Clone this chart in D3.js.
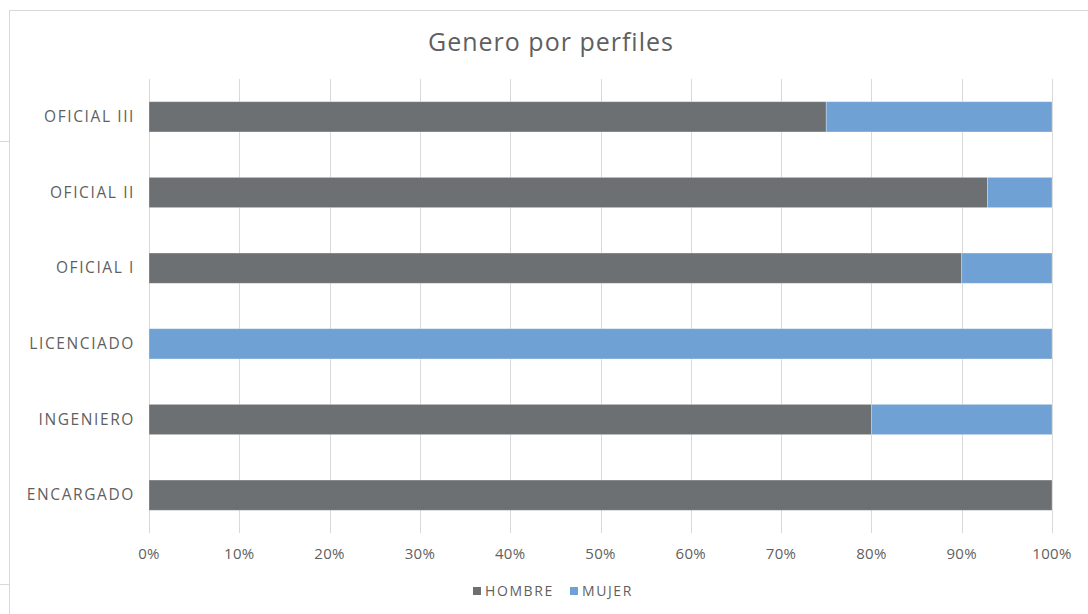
<!DOCTYPE html>
<html>
<head>
<meta charset="utf-8">
<script src="https://cdn.jsdelivr.net/npm/d3@7"></script>
<style>
  body { margin: 0; background: #fff; }
  text { font-family: "Open Sans", sans-serif; fill: #5f5f5f; }
</style>
</head>
<body>
<div class="chart"></div>
<script>
const categories = ['OFICIAL III', 'OFICIAL II', 'OFICIAL I', 'LICENCIADO', 'INGENIERO', 'ENCARGADO'];
const hombre = [75, 92.86, 90, 0, 80, 100];
const mujer = [25, 7.14, 10, 100, 20, 0];
const seriesNames = ['HOMBRE', 'MUJER'];
const colors = ['#6D7073', '#6FA1D4'];
const tickValues = [0, 10, 20, 30, 40, 50, 60, 70, 80, 90, 100];

const width = 1088;
const height = 614;
const svg = d3.select('.chart')
    .append('svg')
    .attr('width', width)
    .attr('height', height);

// chart frame (only left / top visible in view)
svg.append('rect')
    .attr('x', 9.5).attr('y', 10.5)
    .attr('width', 1200).attr('height', 700)
    .attr('fill', 'none').attr('stroke', '#d9d9d9');
// bits of cell borders left of the frame
[141.5, 584.5].forEach(y => {
    svg.append('line').attr('x1', 0).attr('x2', 9).attr('y1', y).attr('y2', y)
        .attr('stroke', '#d9d9d9');
});

const x = d3.scaleLinear().domain([0, 100]).range([149, 1052]);
const y = d3.scaleBand().domain(categories).range([79, 533])
    .paddingInner(0.6).paddingOuter(0.3);

svg.append('text')
    .attr('x', 551).attr('y', 51)
    .attr('text-anchor', 'middle')
    .attr('font-size', 25)
    .attr('letter-spacing', 1)
    .text('Genero por perfiles');

// gridlines
svg.append('g')
    .selectAll('line')
    .data(tickValues)
    .enter()
    .append('line')
    .attr('x1', d => Math.round(x(d)) + 0.5)
    .attr('x2', d => Math.round(x(d)) + 0.5)
    .attr('y1', 79).attr('y2', 533)
    .attr('stroke', '#d9d9d9');

// x tick labels
svg.append('g')
    .selectAll('text')
    .data(tickValues)
    .enter()
    .append('text')
    .attr('x', d => x(d))
    .attr('y', 559)
    .attr('text-anchor', 'middle')
    .attr('font-size', 15)
    .attr('letter-spacing', 0.3)
    .text(d => d + '%');

// y labels
svg.append('g')
    .selectAll('text')
    .data(categories)
    .enter()
    .append('text')
    .attr('x', 135)
    .attr('y', d => y(d) + y.bandwidth() / 2 + 5)
    .attr('text-anchor', 'end')
    .attr('font-size', 15.5)
    .attr('letter-spacing', 1.6)
    .text(d => d);

const rows = categories.map((c, i) => ({cat: c, HOMBRE: hombre[i], MUJER: mujer[i]}));
const stacked = d3.stack().keys(seriesNames)(rows);

svg.append('g')
    .selectAll('g')
    .data(stacked)
    .enter()
    .append('g')
    .attr('fill', (d, i) => colors[i])
    .selectAll('rect')
    .data(d => d.filter(p => p[1] - p[0] > 0))
    .enter()
    .append('rect')
    .attr('x', d => x(d[0]))
    .attr('y', d => y(d.data.cat))
    .attr('width', d => x(d[1]) - x(d[0]))
    .attr('height', y.bandwidth())
    .attr('stroke', '#ffffff')
    .attr('stroke-opacity', 0.35)
    .attr('stroke-width', 0.8);

// legend
const legend = svg.append('g');
const legendX = [473, 570];
seriesNames.forEach((s, i) => {
    legend.append('rect')
        .attr('x', legendX[i]).attr('y', 587)
        .attr('width', 8).attr('height', 8)
        .attr('fill', colors[i]);
    legend.append('text')
        .attr('x', legendX[i] + 12).attr('y', 596)
        .attr('font-size', 14)
        .attr('letter-spacing', 1.6)
        .text(s);
});
</script>
</body>
</html>
